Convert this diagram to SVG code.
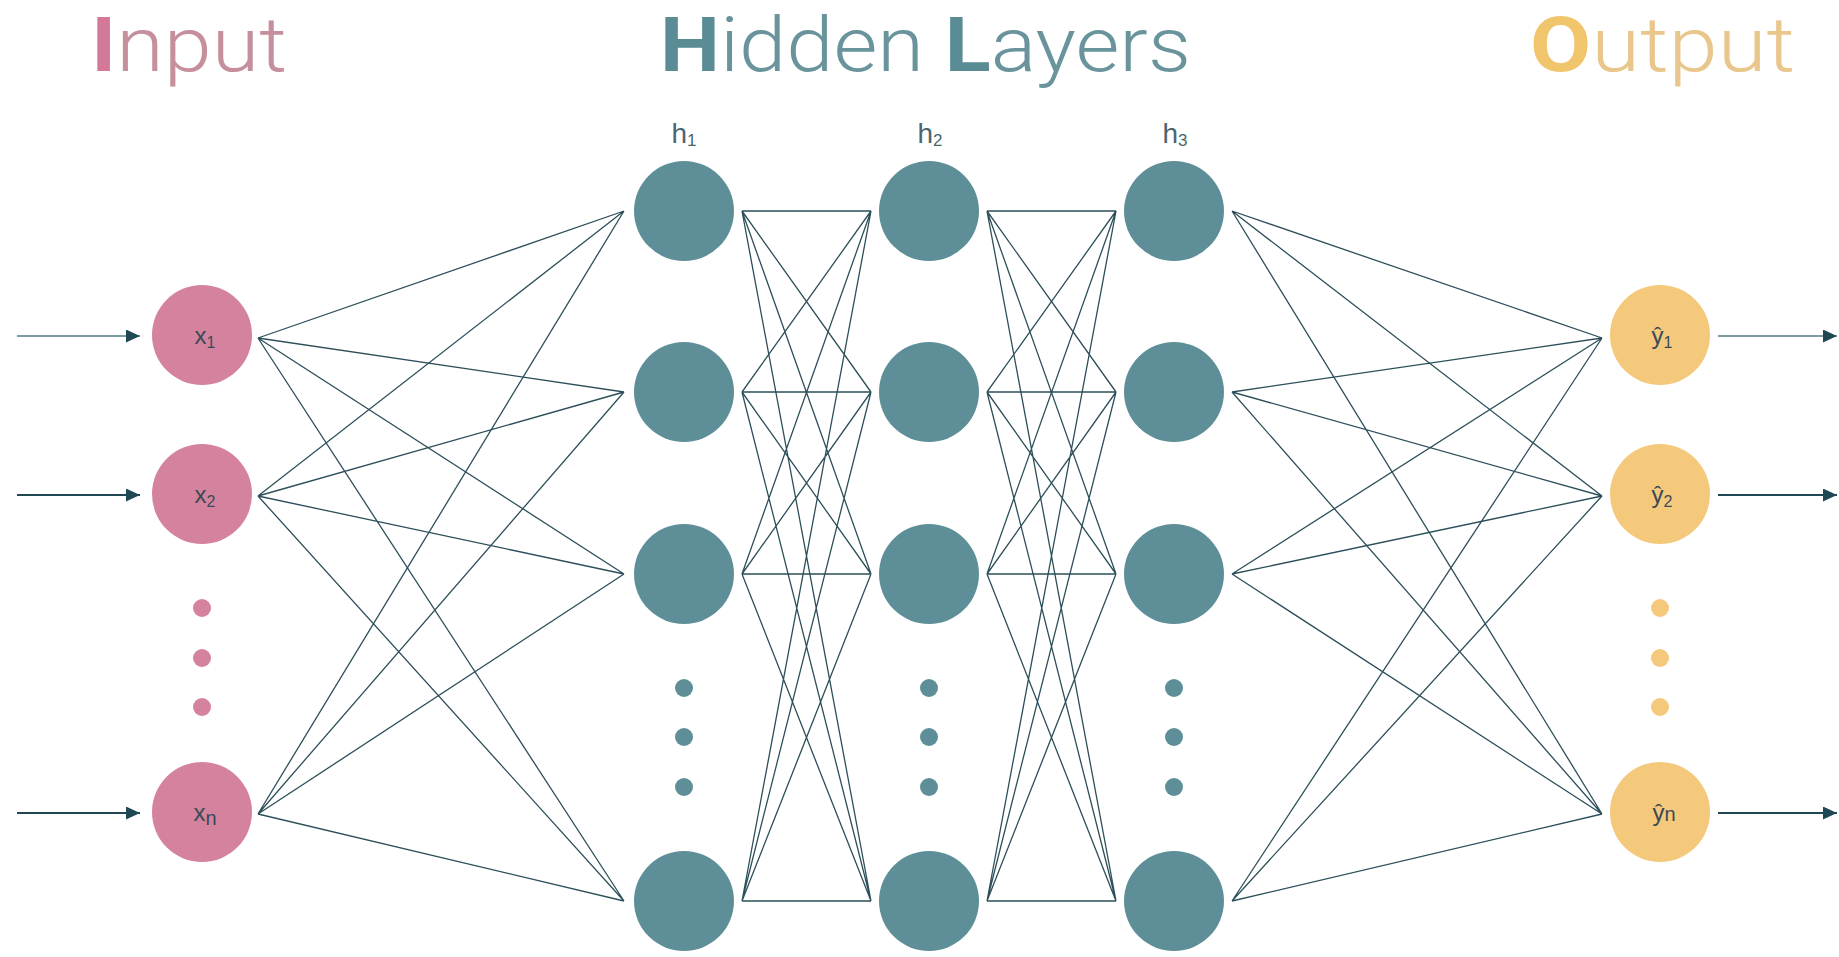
<svg xmlns="http://www.w3.org/2000/svg" width="1839" height="957" viewBox="0 0 1839 957">
<style>
.title{font-family:"Roboto","Lato","Liberation Sans",sans-serif;font-size:76px;font-weight:300}
.cap{font-weight:700}
.lbl{font-family:"Liberation Sans","DejaVu Sans",sans-serif;fill:#3b4a56}
.hl{font-family:"Liberation Sans","DejaVu Sans",sans-serif;fill:#4a6570}
.pink{fill:#d4829d}
.teal{fill:#5e8f99}
.yel{fill:#f4c97c}
.edge{stroke:#2c4f5a;stroke-width:1.3;fill:none}
.arrow{stroke-width:2;fill:none}
</style>
<defs>
<marker id="ah" markerUnits="userSpaceOnUse" markerWidth="15" markerHeight="13" refX="14" refY="6.5" orient="auto">
<path d="M0,0 L14,6.5 L0,13 z" fill="#1f4854"/>
</marker>
</defs>
<rect width="1839" height="957" fill="#ffffff"/>

<g id="titles">
<text class="title" x="91" y="71" textLength="196" lengthAdjust="spacingAndGlyphs"><tspan class="cap" fill="#d4789a">I</tspan><tspan fill="#c58f9c">nput</tspan></text>
<text class="title" x="660" y="71" textLength="531" lengthAdjust="spacingAndGlyphs"><tspan class="cap" fill="#5a8c96">H</tspan><tspan fill="#6a949c">idden </tspan><tspan class="cap" fill="#5a8c96">L</tspan><tspan fill="#6a949c">ayers</tspan></text>
<text class="title" x="1530" y="71" textLength="265" lengthAdjust="spacingAndGlyphs"><tspan class="cap" fill="#f1c56b">O</tspan><tspan fill="#e9c68b">utput</tspan></text>
</g>

<g id="layer-labels">
<text class="hl" x="684" y="143" text-anchor="middle" font-size="28">h<tspan font-size="17" dy="3">1</tspan></text>
<text class="hl" x="930" y="143" text-anchor="middle" font-size="28">h<tspan font-size="17" dy="3">2</tspan></text>
<text class="hl" x="1175" y="143" text-anchor="middle" font-size="28">h<tspan font-size="17" dy="3">3</tspan></text>
</g>

<g id="connectors">
<g id="arrows-in">
<line class="arrow" x1="17" y1="336" x2="140" y2="336" stroke="#7f9ca4" marker-end="url(#ah)"/>
<line class="arrow" x1="17" y1="495" x2="140" y2="495" stroke="#1f4854" marker-end="url(#ah)"/>
<line class="arrow" x1="17" y1="813" x2="140" y2="813" stroke="#1f4854" marker-end="url(#ah)"/>
</g>
<g id="arrows-out">
<line class="arrow" x1="1718" y1="336" x2="1837" y2="336" stroke="#7f9ca4" marker-end="url(#ah)"/>
<line class="arrow" x1="1718" y1="495" x2="1837" y2="495" stroke="#1f4854" marker-end="url(#ah)"/>
<line class="arrow" x1="1718" y1="813" x2="1837" y2="813" stroke="#1f4854" marker-end="url(#ah)"/>
</g>
<g id="in-h1">
<path class="edge" d="M258,338 L624,211 M258,338 L624,392 M258,338 L624,574 M258,338 L624,901
M258,496 L624,211 M258,496 L624,392 M258,496 L624,574 M258,496 L624,901
M258,814 L624,211 M258,814 L624,392 M258,814 L624,574 M258,814 L624,901"/>
</g>
<g id="h1-h2">
<path class="edge" d="M742,211 L871,211 M742,211 L871,392 M742,211 L871,574 M742,211 L871,901
M742,392 L871,211 M742,392 L871,392 M742,392 L871,574 M742,392 L871,901
M742,574 L871,211 M742,574 L871,392 M742,574 L871,574 M742,574 L871,901
M742,901 L871,211 M742,901 L871,392 M742,901 L871,574 M742,901 L871,901"/>
</g>
<g id="h2-h3">
<path class="edge" d="M987,211 L1116,211 M987,211 L1116,392 M987,211 L1116,574 M987,211 L1116,901
M987,392 L1116,211 M987,392 L1116,392 M987,392 L1116,574 M987,392 L1116,901
M987,574 L1116,211 M987,574 L1116,392 M987,574 L1116,574 M987,574 L1116,901
M987,901 L1116,211 M987,901 L1116,392 M987,901 L1116,574 M987,901 L1116,901"/>
</g>
<g id="h3-out">
<path class="edge" d="M1232,211 L1602,338 M1232,211 L1602,496 M1232,211 L1602,814
M1232,392 L1602,338 M1232,392 L1602,496 M1232,392 L1602,814
M1232,574 L1602,338 M1232,574 L1602,496 M1232,574 L1602,814
M1232,901 L1602,338 M1232,901 L1602,496 M1232,901 L1602,814"/>
</g>
</g>

<g id="input-layer">
<g id="x1"><circle class="pink" cx="202" cy="335" r="50"/><text class="lbl" x="205" y="344" text-anchor="middle" font-size="24">x<tspan font-size="16" dy="4">1</tspan></text></g>
<g id="x2"><circle class="pink" cx="202" cy="494" r="50"/><text class="lbl" x="205" y="503" text-anchor="middle" font-size="24">x<tspan font-size="16" dy="4">2</tspan></text></g>
<g id="input-dots"><circle class="pink" cx="202" cy="608" r="9"/><circle class="pink" cx="202" cy="658" r="9"/><circle class="pink" cx="202" cy="707" r="9"/></g>
<g id="xn"><circle class="pink" cx="202" cy="812" r="50"/><text class="lbl" x="205" y="821" text-anchor="middle" font-size="24">x<tspan font-size="20" dy="4">n</tspan></text></g>
</g>

<g id="hidden-1">
<g id="h1-1"><circle class="teal" cx="684" cy="211" r="50"/></g>
<g id="h1-2"><circle class="teal" cx="684" cy="392" r="50"/></g>
<g id="h1-3"><circle class="teal" cx="684" cy="574" r="50"/></g>
<g id="h1-dots"><circle class="teal" cx="684" cy="688" r="9"/><circle class="teal" cx="684" cy="737" r="9"/><circle class="teal" cx="684" cy="787" r="9"/></g>
<g id="h1-4"><circle class="teal" cx="684" cy="901" r="50"/></g>
</g>
<g id="hidden-2">
<g id="h2-1"><circle class="teal" cx="929" cy="211" r="50"/></g>
<g id="h2-2"><circle class="teal" cx="929" cy="392" r="50"/></g>
<g id="h2-3"><circle class="teal" cx="929" cy="574" r="50"/></g>
<g id="h2-dots"><circle class="teal" cx="929" cy="688" r="9"/><circle class="teal" cx="929" cy="737" r="9"/><circle class="teal" cx="929" cy="787" r="9"/></g>
<g id="h2-4"><circle class="teal" cx="929" cy="901" r="50"/></g>
</g>
<g id="hidden-3">
<g id="h3-1"><circle class="teal" cx="1174" cy="211" r="50"/></g>
<g id="h3-2"><circle class="teal" cx="1174" cy="392" r="50"/></g>
<g id="h3-3"><circle class="teal" cx="1174" cy="574" r="50"/></g>
<g id="h3-dots"><circle class="teal" cx="1174" cy="688" r="9"/><circle class="teal" cx="1174" cy="737" r="9"/><circle class="teal" cx="1174" cy="787" r="9"/></g>
<g id="h3-4"><circle class="teal" cx="1174" cy="901" r="50"/></g>
</g>

<g id="output-layer">
<g id="y1"><circle class="yel" cx="1660" cy="335" r="50"/><text class="lbl" x="1662" y="344" text-anchor="middle" font-size="24">ŷ<tspan font-size="16" dy="4">1</tspan></text></g>
<g id="y2"><circle class="yel" cx="1660" cy="494" r="50"/><text class="lbl" x="1662" y="503" text-anchor="middle" font-size="24">ŷ<tspan font-size="16" dy="4">2</tspan></text></g>
<g id="output-dots"><circle class="yel" cx="1660" cy="608" r="9"/><circle class="yel" cx="1660" cy="658" r="9"/><circle class="yel" cx="1660" cy="707" r="9"/></g>
<g id="yn"><circle class="yel" cx="1660" cy="812" r="50"/><text class="lbl" x="1664" y="821" text-anchor="middle" font-size="24">ŷ<tspan font-size="20" dy="0">n</tspan></text></g>
</g>
</svg>
